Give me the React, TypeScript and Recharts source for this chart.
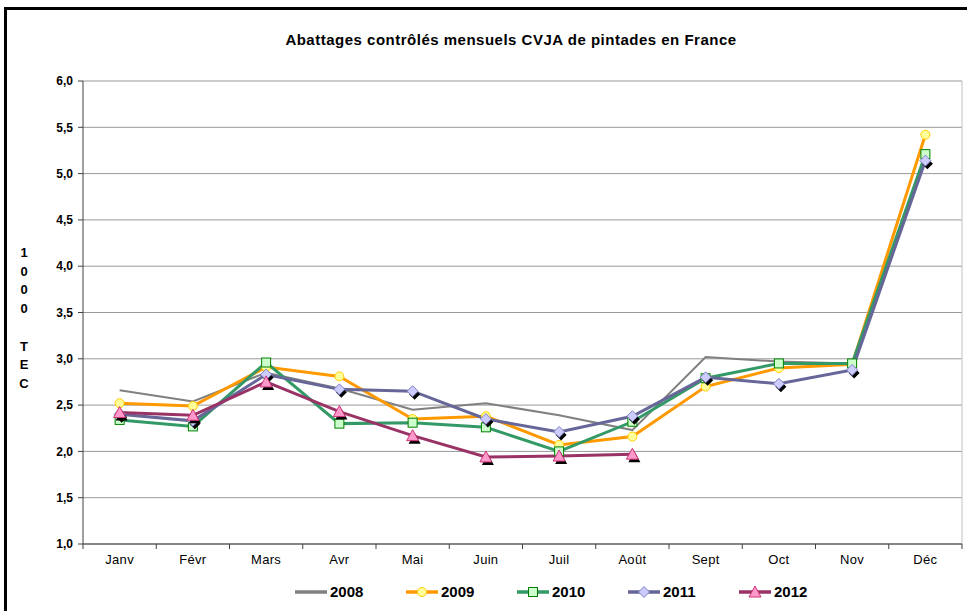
import { LineChart, Line, XAxis, YAxis, CartesianGrid, Legend } from "recharts";

const months = ["Janv", "Févr", "Mars", "Avr", "Mai", "Juin", "Juil", "Août", "Sept", "Oct", "Nov", "Déc"];
const y2008 = [2.66, 2.54, 2.85, 2.68, 2.45, 2.52, 2.39, 2.23, 3.02, 2.97, 2.95, 5.17];
const y2009 = [2.52, 2.49, 2.91, 2.81, 2.35, 2.38, 2.07, 2.16, 2.70, 2.90, 2.94, 5.42];
const y2010 = [2.34, 2.27, 2.96, 2.30, 2.31, 2.26, 2.00, 2.32, 2.79, 2.95, 2.95, 5.21];
const y2011 = [2.40, 2.33, 2.83, 2.67, 2.65, 2.35, 2.21, 2.38, 2.80, 2.73, 2.88, 5.14];
const y2012 = [2.42, 2.39, 2.75, 2.43, 2.17, 1.94, 1.95, 1.97, null, null, null, null];
const yTicks = [1, 1.5, 2, 2.5, 3, 3.5, 4, 4.5, 5, 5.5, 6];
const yTitle = ["1", "0", "0", "0", "", "T", "E", "C"];

const data = months.map((m, i) => ({
  month: m,
  s2008: y2008[i],
  s2009: y2009[i],
  s2010: y2010[i],
  s2011: y2011[i],
  s2012: y2012[i],
}));

const W = 967;
const H = 611;
const PLOT_LEFT = 83;
const PLOT_RIGHT = 962;
const PLOT_TOP = 81;
const PLOT_BOTTOM = 544;
const HALF_BAND = (PLOT_RIGHT - PLOT_LEFT) / months.length / 2;
const FONT = "Arial, 'Liberation Sans', sans-serif";

type MarkerKind = "none" | "circle" | "square" | "diamond" | "triangle";

function Marker({ kind, cx, cy, shadow = true }: { kind: MarkerKind; cx: number; cy: number; shadow?: boolean }) {
  if (kind === "circle") {
    return <circle cx={cx} cy={cy} r={4.5} fill="#ffff99" stroke="#ffcc00" strokeWidth={1} />;
  }
  if (kind === "square") {
    return <rect x={cx - 4.5} y={cy - 4.5} width={9} height={9} fill="#ccffcc" stroke="#008000" strokeWidth={1} />;
  }
  if (kind === "diamond") {
    const pts = (dx: number, dy: number) =>
      `${cx + dx},${cy - 5.5 + dy} ${cx + 5.5 + dx},${cy + dy} ${cx + dx},${cy + 5.5 + dy} ${cx - 5.5 + dx},${cy + dy}`;
    return (
      <g>
        {shadow && <polygon points={pts(2, 3)} fill="#000" />}
        <polygon points={pts(0, 0)} fill="#ccccff" stroke="#8080c0" strokeWidth={1} />
      </g>
    );
  }
  if (kind === "triangle") {
    const pts = (dx: number, dy: number) =>
      `${cx + dx},${cy - 6 + dy} ${cx + 6 + dx},${cy + 5 + dy} ${cx - 6 + dx},${cy + 5 + dy}`;
    return (
      <g>
        {shadow && <polygon points={pts(2, 3)} fill="#000" />}
        <polygon points={pts(0, 0)} fill="#ff99cc" stroke="#cc3377" strokeWidth={1} />
      </g>
    );
  }
  return null;
}

const series = [
  { key: "s2008", name: "2008", color: "#808080", width: 2, marker: "none" as MarkerKind },
  { key: "s2009", name: "2009", color: "#ff9900", width: 3, marker: "circle" as MarkerKind },
  { key: "s2010", name: "2010", color: "#339966", width: 3, marker: "square" as MarkerKind },
  { key: "s2011", name: "2011", color: "#666699", width: 3, marker: "diamond" as MarkerKind },
  { key: "s2012", name: "2012", color: "#993366", width: 3, marker: "triangle" as MarkerKind },
];

function XTick(props: any) {
  const { x, y, payload, index } = props;
  return (
    <g>
      <line x1={x - HALF_BAND} y1={y} x2={x - HALF_BAND} y2={y + 5} stroke="#404040" />
      {index === months.length - 1 && (
        <line x1={x + HALF_BAND} y1={y} x2={x + HALF_BAND} y2={y + 5} stroke="#404040" />
      )}
      <text x={x} y={y + 20} textAnchor="middle" fontSize={13} letterSpacing={0.3} fontFamily={FONT} fill="#000">
        {payload.value}
      </text>
    </g>
  );
}

function LegendContent() {
  return (
    <div style={{ position: "relative", width: W, height: 24 }}>
      {series.map((s, i) => (
        <div key={s.key} style={{ position: "absolute", left: 294 + i * 111, top: 0, height: 24 }}>
          <svg width={34} height={24} style={{ position: "absolute", left: 0, top: 0 }}>
            <line x1={1} y1={12} x2={33} y2={12} stroke={s.color} strokeWidth={3.5} />
            {s.marker !== "none" && <Marker kind={s.marker} cx={17} cy={12} shadow={false} />}
          </svg>
          <span
            style={{
              position: "absolute",
              left: 36,
              top: 3,
              fontFamily: FONT,
              fontSize: 15,
              lineHeight: "18px",
              fontWeight: "bold",
              color: "#000",
              whiteSpace: "nowrap",
            }}
          >
            {s.name}
          </span>
        </div>
      ))}
    </div>
  );
}

export default function App() {
  return (
    <div style={{ position: "absolute", left: 0, top: 0, width: W, height: H, overflow: "hidden", background: "#fff" }}>
      <div
        style={{
          position: "absolute",
          left: 4,
          top: 7,
          width: 1000,
          height: 700,
          border: "3px solid #000",
        }}
      />
      <div
        style={{
          position: "absolute",
          left: 0,
          top: 31,
          width: 1022,
          textAlign: "center",
          fontFamily: FONT,
          fontSize: 15,
          letterSpacing: 0.5,
          fontWeight: "bold",
          color: "#000",
        }}
      >
        Abattages contrôlés mensuels CVJA de pintades en France
      </div>
      <div style={{ position: "absolute", left: 0, top: 0 }}>
        <LineChart
          width={W}
          height={H}
          data={data}
          margin={{ top: PLOT_TOP, right: W - PLOT_RIGHT, left: 0, bottom: 0 }}
        >
          <CartesianGrid stroke="#999999" vertical={false} />
          <line x1={PLOT_RIGHT} y1={PLOT_TOP} x2={PLOT_RIGHT} y2={PLOT_BOTTOM} stroke="#c0c0c0" />
          <XAxis
            dataKey="month"
            height={H - PLOT_BOTTOM}
            padding={{ left: HALF_BAND, right: HALF_BAND }}
            tickLine={false}
            tickSize={0}
            tickMargin={0}
            interval={0}
            axisLine={{ stroke: "#404040" }}
            tick={<XTick />}
          />
          <YAxis
            width={PLOT_LEFT}
            domain={[1, 6]}
            ticks={yTicks}
            interval={0}
            tickSize={5}
            tickMargin={5}
            axisLine={{ stroke: "#404040" }}
            tickLine={{ stroke: "#404040" }}
            tickFormatter={(v: number) => v.toFixed(1).replace(".", ",")}
            tick={{ fontSize: 12, fontWeight: "bold", fill: "#000", fontFamily: FONT }}
            label={{
              content: () => (
                <text x={24} y={257} textAnchor="middle" fontSize={13} fontWeight="bold" fontFamily={FONT} fill="#000">
                  {yTitle.map((c, i) => (
                    <tspan key={i} x={24} dy={i === 0 ? 0 : 18.7}>
                      {c === "" ? "\u00a0" : c}
                    </tspan>
                  ))}
                </text>
              ),
            }}
          />
          <Legend
            layout="horizontal"
            verticalAlign="middle"
            align="center"
            wrapperStyle={{ position: "absolute", top: 580, left: 0, width: W }}
            content={<LegendContent />}
          />
          {series.map((s) => (
            <Line
              key={s.key}
              type="linear"
              dataKey={s.key}
              name={s.name}
              stroke={s.color}
              strokeWidth={s.width}
              isAnimationActive={false}
              activeDot={false}
              dot={(p: any) => {
                if (s.marker === "none" || p.cy == null || p.value == null) return <g key={`${s.key}-${p.index}`} />;
                return (
                  <g key={`${s.key}-${p.index}`}>
                    <Marker kind={s.marker} cx={p.cx} cy={p.cy} />
                  </g>
                );
              }}
            />
          ))}
        </LineChart>
      </div>
    </div>
  );
}
